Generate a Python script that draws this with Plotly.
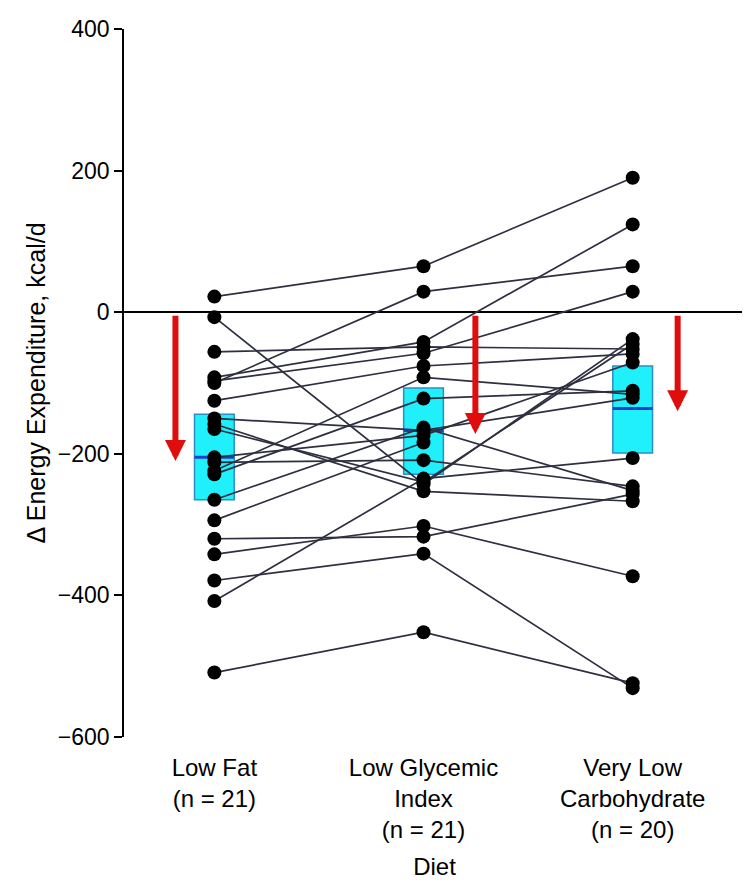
import plotly.graph_objects as go

# ---- data ----
diets = ["Low Fat", "Low Glycemic Index", "Very Low Carbohydrate"]
tick_labels = ["Low Fat<br>(n = 21)", "Low Glycemic<br>Index<br>(n = 21)", "Very Low<br>Carbohydrate<br>(n = 20)"]

# paired per-participant changes (kcal/d); None = no measurement
low_fat = [22, -7, -56, -92, -97, -100, -125, -150, -158, -165, -205,
           -212, -224, -229, -265, -294, -320, -342, -379, -408, -509]
low_gi = [65, -243, -49, -42, -58, 29, -76, -167, -253, -240, -174,
          -209, -92, -122, -163, -184, -317, -302, -341, -235, -452]
very_low_carb = [190, -38, -52, 124, 29, 65, -59, -121, -267, -45, -71,
                 -246, -116, -111, -252, None, -257, -373, -531, -206, -524]

# box summaries per diet
box_q1 = [-265, -229, -199]
box_median = [-205, -167, -136]
box_q3 = [-144, -107, -76]

# mean change arrows
arrow_values = [-210, -172, -140]
arrow_offsets = [-0.186, 0.248, 0.215]

FONT = "Liberation Sans, Arial, Helvetica, sans-serif"
xpos = [0, 1, 2]

fig = go.Figure()

# boxes
for i in range(3):
    fig.add_trace(go.Box(
        x=[xpos[i]], q1=[box_q1[i]], median=[box_median[i]], q3=[box_q3[i]],
        lowerfence=[box_q1[i]], upperfence=[box_q3[i]],
        width=0.19, whiskerwidth=0,
        fillcolor="#1ff0fc", line=dict(color="#2c8fbf", width=1.5),
        boxpoints=False, showlegend=False, hoverinfo="skip"))
    fig.add_trace(go.Scatter(
        x=[xpos[i] - 0.095, xpos[i] + 0.095], y=[box_median[i], box_median[i]],
        mode="lines", line=dict(color="#1f3fd0", width=3),
        showlegend=False, hoverinfo="skip"))

# participant lines
for a, b, c in zip(low_fat, low_gi, very_low_carb):
    fig.add_trace(go.Scatter(
        x=xpos, y=[a, b, c], mode="lines", connectgaps=False,
        line=dict(color="#2e2f40", width=1.7),
        showlegend=False, hoverinfo="skip"))

# points
for i, vals in enumerate([low_fat, low_gi, very_low_carb]):
    ys = [v for v in vals if v is not None]
    fig.add_trace(go.Scatter(
        x=[xpos[i]] * len(ys), y=ys, mode="markers",
        marker=dict(color="black", size=14),
        showlegend=False))

# red arrows
for i in range(3):
    xa = xpos[i] + arrow_offsets[i]
    fig.add_annotation(
        x=xa, y=arrow_values[i], ax=xa, ay=0,
        xref="x", yref="y", axref="x", ayref="y",
        text="", showarrow=True, arrowhead=2, arrowsize=0.7,
        arrowwidth=6, arrowcolor="#e00d0d", standoff=0, startstandoff=2)

# page body has an 8px default margin, so the figure is sized/offset to compensate
fig.update_layout(
    width=742, height=887,
    margin=dict(l=116, r=5, t=21, b=158),
    paper_bgcolor="white", plot_bgcolor="white",
    font=dict(family=FONT, color="black", size=23),
    xaxis=dict(
        range=[-0.432, 2.537], tickmode="array", tickvals=xpos, ticktext=tick_labels,
        tickfont=dict(size=24), showgrid=False, zeroline=False, showline=False,
        ticks="outside", ticklen=9, tickcolor="rgba(0,0,0,0)",
        title=dict(text="Diet", font=dict(size=24), standoff=15)),
    yaxis=dict(
        range=[-600, 400], tickmode="array", tickvals=[-600, -400, -200, 0, 200, 400],
        showgrid=False, zeroline=True, zerolinecolor="black", zerolinewidth=1.5,
        showline=True, linecolor="black", linewidth=1.5,
        ticks="outside", ticklen=8, tickwidth=1.5, tickcolor="black",
        tickfont=dict(size=23),
        title=dict(text="Δ Energy Expenditure, kcal/d", font=dict(size=25), standoff=5)),
)

fig.write_html("out.html")
